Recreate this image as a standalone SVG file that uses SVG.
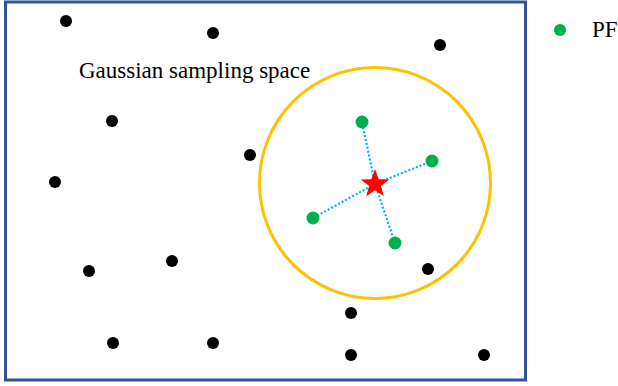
<svg xmlns="http://www.w3.org/2000/svg" width="618" height="386" viewBox="0 0 618 386">
<style>
.b{fill:#000}
.g{fill:#00B050}
.t{font-family:"Liberation Serif","Times New Roman",serif;font-size:23px;fill:#000}
.c{stroke:#00B0F0;stroke-width:2.2;stroke-dasharray:2 2;fill:none}
</style>
<rect width="618" height="386" fill="#fff"/>
<g id="frame"><rect x="5.5" y="2" width="520" height="378" fill="none" stroke="#2F5597" stroke-width="3"/></g>
<g id="label"><text class="t" x="79" y="78">Gaussian sampling space</text></g>
<g id="region"><circle cx="375" cy="183" r="115.5" fill="none" stroke="#FFC000" stroke-width="3"/></g>
<g id="black-points">
<circle class="b" cx="66" cy="21" r="6"/>
<circle class="b" cx="213" cy="33" r="6"/>
<circle class="b" cx="440" cy="45" r="6"/>
<circle class="b" cx="112" cy="121" r="6"/>
<circle class="b" cx="250" cy="155" r="6"/>
<circle class="b" cx="55" cy="182" r="6"/>
<circle class="b" cx="89" cy="271" r="6"/>
<circle class="b" cx="172" cy="261" r="6"/>
<circle class="b" cx="428" cy="269" r="6"/>
<circle class="b" cx="351" cy="313" r="6"/>
<circle class="b" cx="113" cy="343" r="6"/>
<circle class="b" cx="213" cy="343" r="6"/>
<circle class="b" cx="351" cy="355" r="6"/>
<circle class="b" cx="484" cy="355" r="6"/>
</g>
<g id="connectors">
<line class="c" x1="375" y1="184" x2="362" y2="122"/>
<line class="c" x1="375" y1="184" x2="432" y2="161"/>
<line class="c" x1="375" y1="184" x2="313" y2="218"/>
<line class="c" x1="375" y1="184" x2="395" y2="243"/>
</g>
<g id="pf-points">
<circle class="g" cx="362" cy="122" r="6.5"/>
<circle class="g" cx="432" cy="161" r="6.5"/>
<circle class="g" cx="313" cy="218" r="6.5"/>
<circle class="g" cx="395" cy="243" r="6.5"/>
</g>
<g id="star"><polygon fill="#FF0000" points="375,169 378.7,179.2 389.3,179.4 380.9,186.1 383.8,196.3 375,190.3 366.2,196.3 369.1,186.1 360.7,179.4 371.3,179.2"/></g>
<g id="legend">
<circle class="g" cx="560" cy="30" r="6"/>
<text class="t" x="592" y="37">PF</text>
</g>
</svg>
